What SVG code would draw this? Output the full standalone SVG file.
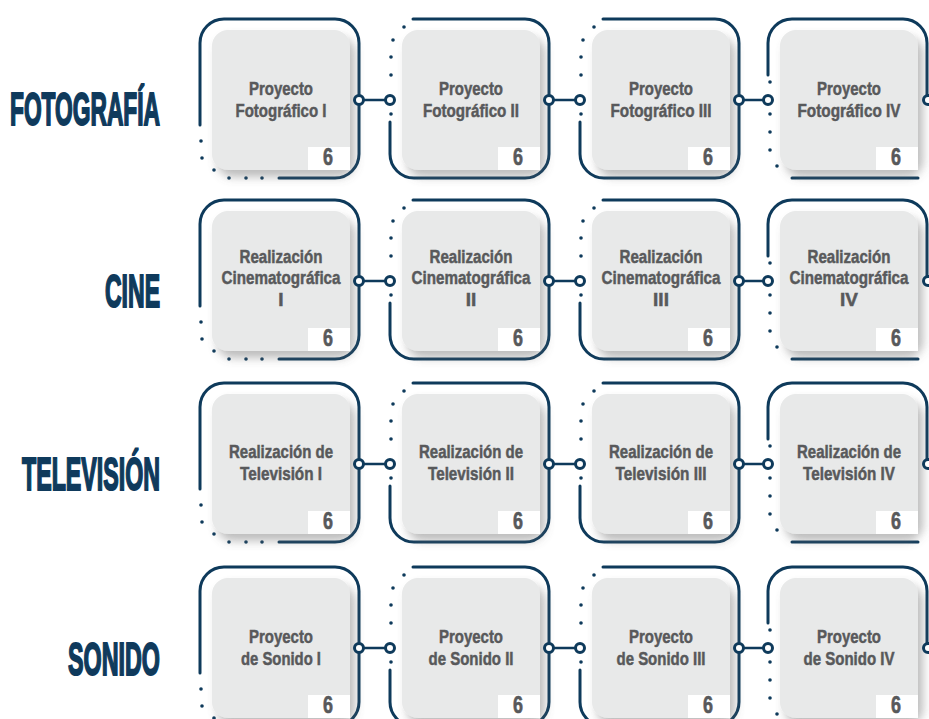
<svg xmlns="http://www.w3.org/2000/svg" xmlns:xlink="http://www.w3.org/1999/xlink" width="929" height="719" viewBox="0 0 929 719">
<style>
.fr{fill:none;stroke:#0e3a5b;stroke-width:3;stroke-linecap:round}
.dot{fill:#0e3a5b}
.t{font-family:"Liberation Sans",Arial,sans-serif;font-weight:bold;font-size:19px;fill:#58595b;stroke:#58595b;stroke-width:0.5;text-anchor:middle}
.num{font-family:"Liberation Sans",Arial,sans-serif;font-weight:bold;font-size:23px;fill:#58595b;stroke:#58595b;stroke-width:0.6;text-anchor:middle}
.lbl{font-family:"Liberation Sans",Arial,sans-serif;font-weight:bold;font-size:47px;fill:#0f3a5c;stroke:#0f3a5c;stroke-width:2}
.ln{stroke:#0e3a5b;stroke-width:2.5;fill:none}
.cc{fill:#fff;stroke:#0e3a5b;stroke-width:3}
</style>
<defs>
<filter id="sh" x="-20%" y="-20%" width="150%" height="150%">
<feDropShadow dx="5" dy="7" stdDeviation="5" flood-color="#6a6a6a" flood-opacity="0.45"/>
</filter>
<g id="frameA">
<path class="fr" d="M0,106 V24 A24,24 0 0 1 24,0 H135 A24,24 0 0 1 159,24 V135 A24,24 0 0 1 135,159 H79"/>
<circle class="dot" cx="1" cy="122" r="1.8"/><circle class="dot" cx="2" cy="139" r="1.8"/><circle class="dot" cx="14" cy="151" r="1.8"/><circle class="dot" cx="29" cy="159" r="1.8"/><circle class="dot" cx="46" cy="159" r="1.8"/><circle class="dot" cx="62" cy="159" r="1.8"/>
</g>
<g id="frameB">
<path class="fr" d="M0,103 V135 A24,24 0 0 0 24,159 H135 A24,24 0 0 0 159,135 V24 A24,24 0 0 0 135,0 H23"/>
<circle class="dot" cx="14" cy="8" r="1.8"/><circle class="dot" cx="3" cy="21" r="1.8"/><circle class="dot" cx="1" cy="38" r="1.8"/><circle class="dot" cx="1" cy="56" r="1.8"/><circle class="dot" cx="1" cy="95" r="1.8"/>
</g>
<g id="frameC">
<path class="fr" d="M0,56 V24 A24,24 0 0 1 24,0 H135 A24,24 0 0 1 159,24 V76"/>
<path class="fr" d="M24,159 H150"/>
<circle class="dot" cx="2" cy="63" r="1.8"/><circle class="dot" cx="2" cy="95" r="1.8"/><circle class="dot" cx="2" cy="113" r="1.8"/><circle class="dot" cx="2" cy="131" r="1.8"/><circle class="dot" cx="9" cy="147" r="1.8"/>
</g>
<g id="card">
<rect x="12" y="11" width="138" height="140" rx="16" fill="#e8e9e9" filter="url(#sh)"/>
<rect x="108" y="128" width="42" height="23" fill="#ffffff"/>
<text class="num" x="128" y="146" textLength="10" lengthAdjust="spacingAndGlyphs">6</text>
</g>
</defs>

<g id="labels">
<text id="lbl-fotografia" class="lbl" x="10" y="125" textLength="150" lengthAdjust="spacingAndGlyphs">FOTOGRAFÍA</text>
<text id="lbl-cine" class="lbl" x="105" y="307" textLength="55" lengthAdjust="spacingAndGlyphs">CINE</text>
<text id="lbl-television" class="lbl" x="22" y="490" textLength="138" lengthAdjust="spacingAndGlyphs">TELEVISIÓN</text>
<text id="lbl-sonido" class="lbl" x="68" y="675" textLength="92" lengthAdjust="spacingAndGlyphs">SONIDO</text>
</g>

<!-- Row 1: Fotografía -->
<g id="foto-1" transform="translate(200,19)"><use xlink:href="#frameA"/><use xlink:href="#card"/>
<text class="t" x="81" y="76" textLength="64" lengthAdjust="spacingAndGlyphs">Proyecto</text>
<text class="t" x="81" y="98" textLength="91" lengthAdjust="spacingAndGlyphs">Fotográfico I</text></g>
<g id="foto-2" transform="translate(390,19)"><use xlink:href="#frameB"/><use xlink:href="#card"/>
<text class="t" x="81" y="76" textLength="64" lengthAdjust="spacingAndGlyphs">Proyecto</text>
<text class="t" x="81" y="98" textLength="96" lengthAdjust="spacingAndGlyphs">Fotográfico II</text></g>
<g id="foto-3" transform="translate(580,19)"><use xlink:href="#frameB"/><use xlink:href="#card"/>
<text class="t" x="81" y="76" textLength="64" lengthAdjust="spacingAndGlyphs">Proyecto</text>
<text class="t" x="81" y="98" textLength="101" lengthAdjust="spacingAndGlyphs">Fotográfico III</text></g>
<g id="foto-4" transform="translate(768,19)"><use xlink:href="#frameC"/><use xlink:href="#card"/>
<text class="t" x="81" y="76" textLength="64" lengthAdjust="spacingAndGlyphs">Proyecto</text>
<text class="t" x="81" y="98" textLength="103" lengthAdjust="spacingAndGlyphs">Fotográfico IV</text></g>

<!-- Row 2: Cine -->
<g id="cine-1" transform="translate(200,200)"><use xlink:href="#frameA"/><use xlink:href="#card"/>
<text class="t" x="81" y="63" textLength="83" lengthAdjust="spacingAndGlyphs">Realización</text>
<text class="t" x="81" y="84" textLength="119" lengthAdjust="spacingAndGlyphs">Cinematográfica</text>
<text class="t" x="81" y="106">I</text></g>
<g id="cine-2" transform="translate(390,200)"><use xlink:href="#frameB"/><use xlink:href="#card"/>
<text class="t" x="81" y="63" textLength="83" lengthAdjust="spacingAndGlyphs">Realización</text>
<text class="t" x="81" y="84" textLength="119" lengthAdjust="spacingAndGlyphs">Cinematográfica</text>
<text class="t" x="81" y="106">II</text></g>
<g id="cine-3" transform="translate(580,200)"><use xlink:href="#frameB"/><use xlink:href="#card"/>
<text class="t" x="81" y="63" textLength="83" lengthAdjust="spacingAndGlyphs">Realización</text>
<text class="t" x="81" y="84" textLength="119" lengthAdjust="spacingAndGlyphs">Cinematográfica</text>
<text class="t" x="81" y="106">III</text></g>
<g id="cine-4" transform="translate(768,200)"><use xlink:href="#frameC"/><use xlink:href="#card"/>
<text class="t" x="81" y="63" textLength="83" lengthAdjust="spacingAndGlyphs">Realización</text>
<text class="t" x="81" y="84" textLength="119" lengthAdjust="spacingAndGlyphs">Cinematográfica</text>
<text class="t" x="81" y="106">IV</text></g>

<!-- Row 3: Televisión -->
<g id="tv-1" transform="translate(200,383)"><use xlink:href="#frameA"/><use xlink:href="#card"/>
<text class="t" x="81" y="75" textLength="104" lengthAdjust="spacingAndGlyphs">Realización de</text>
<text class="t" x="81" y="97" textLength="82" lengthAdjust="spacingAndGlyphs">Televisión I</text></g>
<g id="tv-2" transform="translate(390,383)"><use xlink:href="#frameB"/><use xlink:href="#card"/>
<text class="t" x="81" y="75" textLength="104" lengthAdjust="spacingAndGlyphs">Realización de</text>
<text class="t" x="81" y="97" textLength="86" lengthAdjust="spacingAndGlyphs">Televisión II</text></g>
<g id="tv-3" transform="translate(580,383)"><use xlink:href="#frameB"/><use xlink:href="#card"/>
<text class="t" x="81" y="75" textLength="104" lengthAdjust="spacingAndGlyphs">Realización de</text>
<text class="t" x="81" y="97" textLength="91" lengthAdjust="spacingAndGlyphs">Televisión III</text></g>
<g id="tv-4" transform="translate(768,383)"><use xlink:href="#frameC"/><use xlink:href="#card"/>
<text class="t" x="81" y="75" textLength="104" lengthAdjust="spacingAndGlyphs">Realización de</text>
<text class="t" x="81" y="97" textLength="92" lengthAdjust="spacingAndGlyphs">Televisión IV</text></g>

<!-- Row 4: Sonido -->
<g id="son-1" transform="translate(200,567)"><use xlink:href="#frameA"/><use xlink:href="#card"/>
<text class="t" x="81" y="76" textLength="64" lengthAdjust="spacingAndGlyphs">Proyecto</text>
<text class="t" x="81" y="98" textLength="80" lengthAdjust="spacingAndGlyphs">de Sonido I</text></g>
<g id="son-2" transform="translate(390,567)"><use xlink:href="#frameB"/><use xlink:href="#card"/>
<text class="t" x="81" y="76" textLength="64" lengthAdjust="spacingAndGlyphs">Proyecto</text>
<text class="t" x="81" y="98" textLength="85" lengthAdjust="spacingAndGlyphs">de Sonido II</text></g>
<g id="son-3" transform="translate(580,567)"><use xlink:href="#frameB"/><use xlink:href="#card"/>
<text class="t" x="81" y="76" textLength="64" lengthAdjust="spacingAndGlyphs">Proyecto</text>
<text class="t" x="81" y="98" textLength="89" lengthAdjust="spacingAndGlyphs">de Sonido III</text></g>
<g id="son-4" transform="translate(768,567)"><use xlink:href="#frameC"/><use xlink:href="#card"/>
<text class="t" x="81" y="76" textLength="64" lengthAdjust="spacingAndGlyphs">Proyecto</text>
<text class="t" x="81" y="98" textLength="91" lengthAdjust="spacingAndGlyphs">de Sonido IV</text></g>

<g id="connectors">
<path class="ln" d="M359,100 H390 M549,100 H580 M739,100 H768 M359,281 H390 M549,281 H580 M739,281 H768 M359,464 H390 M549,464 H580 M739,464 H768 M359,648 H390 M549,648 H580 M739,648 H768"/>
<g>
<circle class="cc" cx="359" cy="100" r="4.5"/><circle class="cc" cx="390" cy="100" r="4.5"/><circle class="cc" cx="549" cy="100" r="4.5"/><circle class="cc" cx="580" cy="100" r="4.5"/><circle class="cc" cx="739" cy="100" r="4.5"/><circle class="cc" cx="768" cy="100" r="4.5"/><circle class="cc" cx="928" cy="100" r="4.5"/>
<circle class="cc" cx="359" cy="281" r="4.5"/><circle class="cc" cx="390" cy="281" r="4.5"/><circle class="cc" cx="549" cy="281" r="4.5"/><circle class="cc" cx="580" cy="281" r="4.5"/><circle class="cc" cx="739" cy="281" r="4.5"/><circle class="cc" cx="768" cy="281" r="4.5"/><circle class="cc" cx="928" cy="281" r="4.5"/>
<circle class="cc" cx="359" cy="464" r="4.5"/><circle class="cc" cx="390" cy="464" r="4.5"/><circle class="cc" cx="549" cy="464" r="4.5"/><circle class="cc" cx="580" cy="464" r="4.5"/><circle class="cc" cx="739" cy="464" r="4.5"/><circle class="cc" cx="768" cy="464" r="4.5"/><circle class="cc" cx="928" cy="464" r="4.5"/>
<circle class="cc" cx="359" cy="648" r="4.5"/><circle class="cc" cx="390" cy="648" r="4.5"/><circle class="cc" cx="549" cy="648" r="4.5"/><circle class="cc" cx="580" cy="648" r="4.5"/><circle class="cc" cx="739" cy="648" r="4.5"/><circle class="cc" cx="768" cy="648" r="4.5"/><circle class="cc" cx="928" cy="648" r="4.5"/>
</g>
</g>
</svg>
